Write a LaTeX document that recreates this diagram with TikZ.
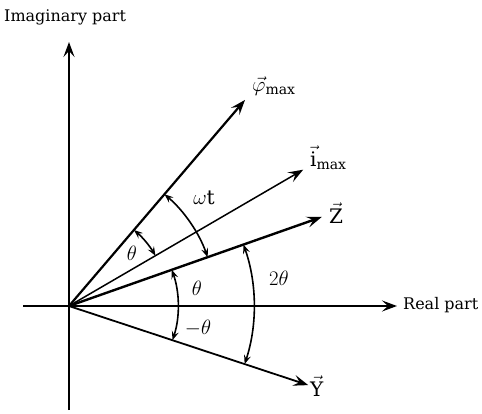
\documentclass[tikz,border=0pt]{standalone}
\usepackage{fontspec}
\setmainfont{DejaVu Serif}
\usetikzlibrary{arrows.meta}
\begin{document}
\begin{tikzpicture}[x=1pt,y=1pt,
  axis/.style={line width=2pt,-{Stealth[length=15pt,width=11pt,inset=6pt]}},
  vec/.style={-{Stealth[length=15pt,width=11pt,inset=6pt]}},
  ang/.style={line width=1.6pt,{Stealth[length=9pt,width=7pt,inset=3.5pt]}-{Stealth[length=9pt,width=7pt,inset=3.5pt]}},
  txt/.style={inner sep=0pt,font=\fontsize{16}{19}\selectfont},
  lab/.style={inner sep=0pt,font=\fontsize{20}{23}\selectfont}]
\useasboundingbox (0,0) rectangle (482,413);
\coordinate (O) at (69,107);
\coordinate (ybot) at (69,3);
\coordinate (ytop) at (69,371);
\coordinate (xleft) at (23,107);
\coordinate (xright) at (397,107);
\draw[line width=2pt] (ybot) -- (O);
\draw[axis] (O) -- (ytop);
\draw[line width=2pt] (xleft) -- (O);
\draw[axis] (O) -- (xright);
\path (O) ++(49.5:271) coordinate (phi);
\path (O) ++(30.2:271) coordinate (imax);
\path (O) ++(19.4:268) coordinate (Z);
\path (O) ++(-18.3:252) coordinate (Y);
\draw[vec,line width=2.2pt] (O) -- (phi);
\draw[vec,line width=1.5pt] (O) -- (imax);
\draw[vec,line width=2.4pt] (O) -- (Z);
\draw[vec,line width=1.8pt] (O) -- (Y);
% angle arcs
\draw[ang] (O) ++(49.5:100) arc[start angle=49.5,end angle=30.2,radius=100];
\draw[ang] (O) ++(49.5:147) arc[start angle=49.5,end angle=19.4,radius=147];
\draw[ang] (O) ++(19.4:109) arc[start angle=19.4,end angle=-18.3,radius=109];
\draw[ang] (O) ++(19.4:185) arc[start angle=19.4,end angle=-18.3,radius=185];
% labels
\node[txt,anchor=west] (imlab) at (4,396) {Imaginary part};
\node[txt,anchor=west] (relab) at (403,108) {Real part};
\node[lab,anchor=west] (philab) at (252,327) {$\vec{\varphi}_{\mathrm{max}}$};
\node[lab,anchor=west] (ilab) at (310,255) {$\vec{\mathrm{i}}_{\mathrm{max}}$};
\node[lab,anchor=west] (zlab) at (329,200) {$\vec{\mathrm{Z}}$};
\node[lab,anchor=west] (ylab) at (310,27) {$\vec{\mathrm{Y}}$};
\node[lab] (th1) at (132,160) {$\theta$};
\node[lab] (wt) at (204,215) {$\omega\mathrm{t}$};
\node[lab] (th2) at (197,125) {$\theta$};
\node[lab] (mth) at (198,85) {$-\theta$};
\node[lab] (tth) at (279,135) {$2\theta$};
\end{tikzpicture}
\end{document}
